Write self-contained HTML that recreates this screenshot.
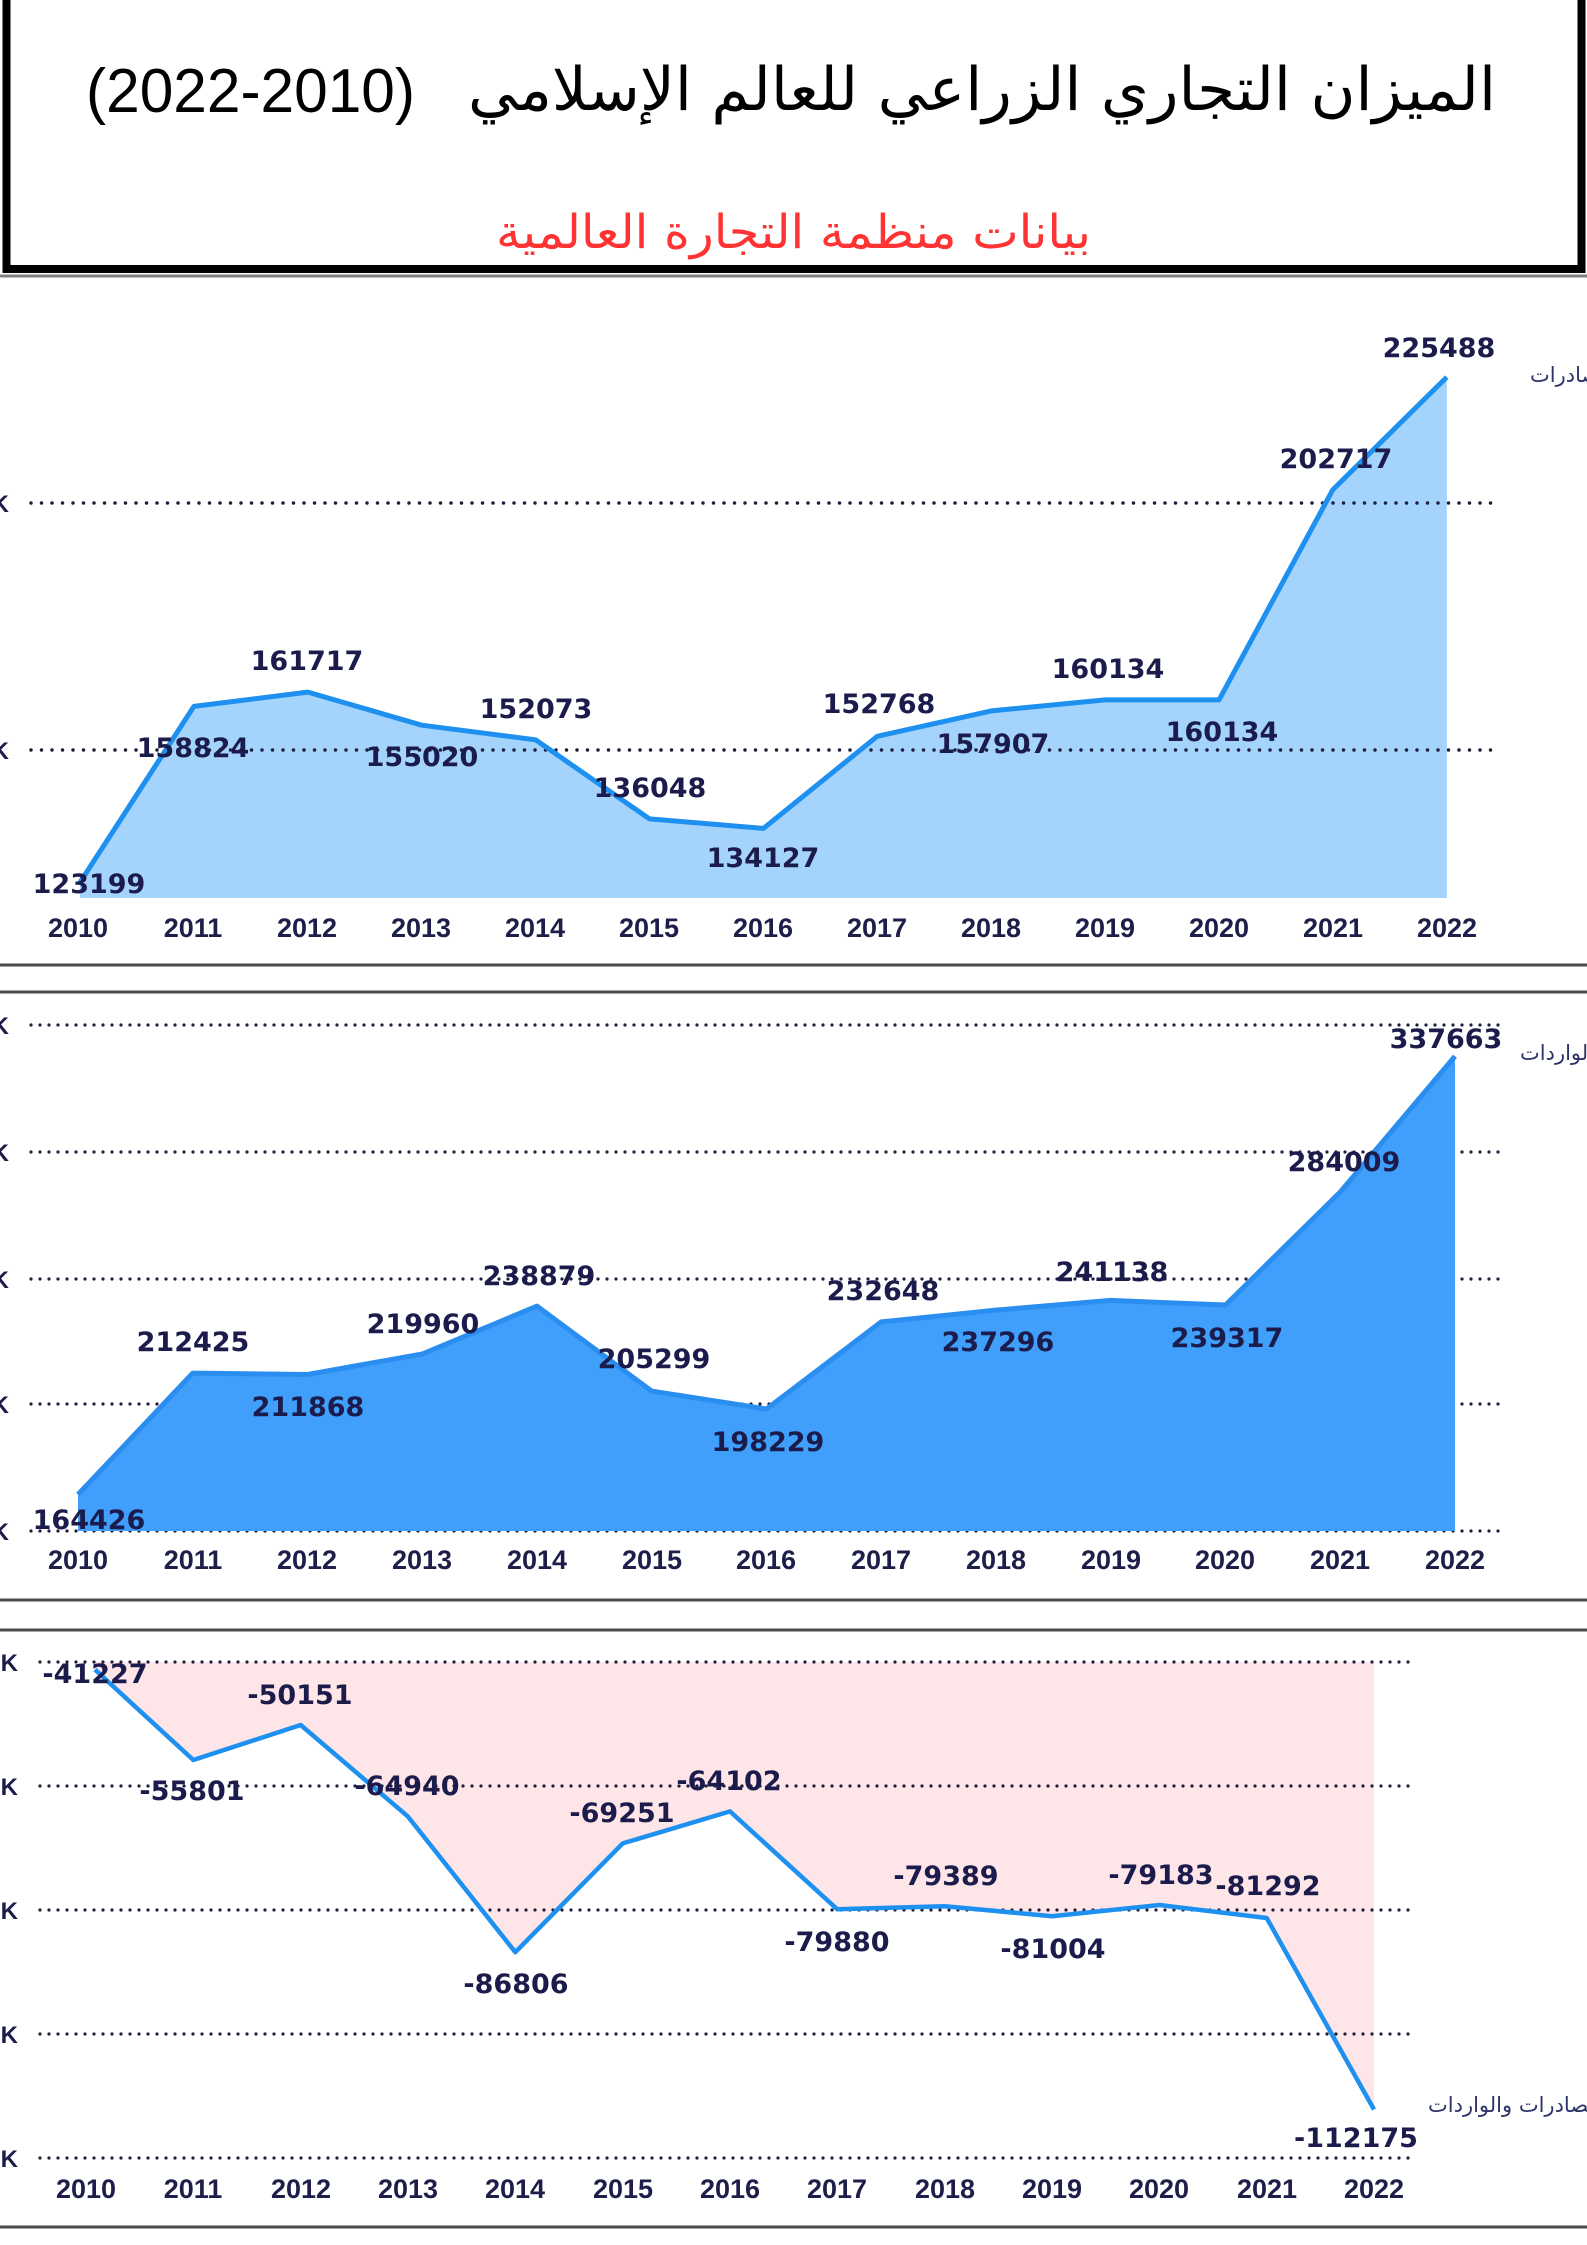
<!DOCTYPE html>
<html><head><meta charset="utf-8"><style>
html,body{margin:0;padding:0;background:#fff;}
body{width:1587px;height:2245px;overflow:hidden;}
svg{display:block;}
.v{font-family:"DejaVu Sans",sans-serif;font-weight:bold;font-size:27px;fill:#1c1c4c;text-anchor:middle;}
.y{font-family:"Liberation Sans",sans-serif;font-weight:bold;font-size:27px;fill:#1e1e4a;text-anchor:middle;}
.k{font-family:"Liberation Sans",sans-serif;font-weight:bold;font-size:24px;fill:#1c1c4c;text-anchor:end;}
.lg{font-family:"DejaVu Sans",sans-serif;font-size:21px;fill:#2d3468;}
.g1{stroke:#1e1e3c;stroke-width:3.5;stroke-linecap:round;stroke-dasharray:0 10.5;fill:none;}
.g2{stroke:#1e1e3c;stroke-width:3.2;stroke-linecap:round;stroke-dasharray:0 9;fill:none;}
.sep{stroke:#4a4a4a;stroke-width:3;}
</style></head><body>
<svg width="1587" height="2245" viewBox="0 0 1587 2245" xmlns="http://www.w3.org/2000/svg">
<!-- Header box -->
<rect x="6.5" y="-10" width="1575" height="279" fill="none" stroke="#000" stroke-width="8"/>
<line x1="0" y1="276" x2="1587" y2="276" stroke="#808080" stroke-width="3"/>
<text x="982" y="110" font-family="DejaVu Sans, sans-serif" font-size="60" fill="#000" text-anchor="middle" textLength="1028" lengthAdjust="spacingAndGlyphs">الميزان التجاري الزراعي للعالم الإسلامي</text>
<text x="250.5" y="112" font-family="Liberation Sans, sans-serif" font-size="62" fill="#000" text-anchor="middle" textLength="329" lengthAdjust="spacingAndGlyphs">(2022-2010)</text>
<text x="793.5" y="248" font-family="DejaVu Sans, sans-serif" font-size="47" fill="#ff3333" text-anchor="middle" textLength="595" lengthAdjust="spacingAndGlyphs">بيانات منظمة التجارة العالمية</text>

<!-- ===== Chart 1 ===== -->
<polygon fill="#a4d4fc" points="80,898 80,882.4 193.9,706.4 307.8,692.1 421.7,725.2 535.6,739.8 649.5,818.9 763.4,828.4 877.3,736.3 991.2,710.9 1105.1,699.9 1219,699.9 1332.9,489.6 1446.8,377.1 1446.8,898"/>
<line class="g1" x1="31" y1="503" x2="1500" y2="503"/>
<line class="g1" x1="31" y1="750" x2="1500" y2="750"/>
<polyline fill="none" stroke="#1e90f0" stroke-width="5" stroke-linejoin="round" points="80,882.4 193.9,706.4 307.8,692.1 421.7,725.2 535.6,739.8 649.5,818.9 763.4,828.4 877.3,736.3 991.2,710.9 1105.1,699.9 1219,699.9 1332.9,489.6 1446.8,377.1"/>
<text class="k" x="9" y="512">K</text>
<text class="k" x="9" y="759">K</text>
<g class="v">
<text x="89" y="893">123199</text>
<text x="193" y="757">158824</text>
<text x="307" y="670">161717</text>
<text x="422" y="766">155020</text>
<text x="536" y="718">152073</text>
<text x="650" y="797">136048</text>
<text x="763" y="867">134127</text>
<text x="879" y="713">152768</text>
<text x="993" y="753">157907</text>
<text x="1108" y="678">160134</text>
<text x="1222" y="741">160134</text>
<text x="1336" y="468">202717</text>
<text x="1439" y="357">225488</text>
</g>
<g class="y">
<text x="78" y="937">2010</text><text x="193" y="937">2011</text><text x="307" y="937">2012</text><text x="421" y="937">2013</text><text x="535" y="937">2014</text><text x="649" y="937">2015</text><text x="763" y="937">2016</text><text x="877" y="937">2017</text><text x="991" y="937">2018</text><text x="1105" y="937">2019</text><text x="1219" y="937">2020</text><text x="1333" y="937">2021</text><text x="1447" y="937">2022</text>
</g>
<text class="lg" x="1530" y="382">الصادرات</text>
<line class="sep" x1="0" y1="965" x2="1587" y2="965"/>
<line class="sep" x1="0" y1="992" x2="1587" y2="992"/>

<!-- ===== Chart 2 ===== -->
<line class="g2" x1="31" y1="1025" x2="1500" y2="1025"/>
<line class="g2" x1="31" y1="1152" x2="1500" y2="1152"/>
<line class="g2" x1="31" y1="1279" x2="1500" y2="1279"/>
<line class="g2" x1="31" y1="1404" x2="1500" y2="1404"/>
<line class="g2" x1="31" y1="1531" x2="1500" y2="1531"/>
<polygon fill="#3f9ffb" points="78,1531 78,1494.5 192.75,1373.1 307.5,1374.5 422.25,1354 537,1306.1 651.75,1391.1 766.5,1409 881.25,1321.9 996,1310.1 1110.75,1300.4 1225.5,1305 1340.25,1192 1455,1056.2 1455,1531"/>
<polyline fill="none" stroke="#2a8ef0" stroke-width="5" stroke-linejoin="round" points="78,1494.5 192.75,1373.1 307.5,1374.5 422.25,1354 537,1306.1 651.75,1391.1 766.5,1409 881.25,1321.9 996,1310.1 1110.75,1300.4 1225.5,1305 1340.25,1192 1455,1056.2"/>
<text class="k" x="9" y="1034">K</text>
<text class="k" x="9" y="1161">K</text>
<text class="k" x="9" y="1288">K</text>
<text class="k" x="9" y="1413">K</text>
<text class="k" x="9" y="1540">K</text>
<g class="v">
<text x="89" y="1529">164426</text>
<text x="193" y="1351">212425</text>
<text x="308" y="1416">211868</text>
<text x="423" y="1333">219960</text>
<text x="539" y="1285">238879</text>
<text x="654" y="1368">205299</text>
<text x="768" y="1451">198229</text>
<text x="883" y="1300">232648</text>
<text x="998" y="1351">237296</text>
<text x="1112" y="1281">241138</text>
<text x="1227" y="1347">239317</text>
<text x="1344" y="1171">284009</text>
<text x="1446" y="1048">337663</text>
</g>
<g class="y">
<text x="78" y="1569">2010</text><text x="193" y="1569">2011</text><text x="307" y="1569">2012</text><text x="422" y="1569">2013</text><text x="537" y="1569">2014</text><text x="652" y="1569">2015</text><text x="766" y="1569">2016</text><text x="881" y="1569">2017</text><text x="996" y="1569">2018</text><text x="1111" y="1569">2019</text><text x="1225" y="1569">2020</text><text x="1340" y="1569">2021</text><text x="1455" y="1569">2022</text>
</g>
<text class="lg" x="1520" y="1060">الواردات</text>
<line class="sep" x1="0" y1="1600" x2="1587" y2="1600"/>
<line class="sep" x1="0" y1="1630" x2="1587" y2="1630"/>

<!-- ===== Chart 3 ===== -->
<polygon fill="#fde5e8" points="95,1662 95,1669.6 193.3,1760 300.7,1725 408,1816.6 515.3,1952.2 622.7,1843.4 730,1811.4 837.3,1909.3 944.7,1906.2 1052,1916.2 1159.3,1905 1266.7,1918 1374,2109.5 1374,1662"/>
<line class="g2" x1="40" y1="1662" x2="1414" y2="1662"/>
<line class="g2" x1="40" y1="1786" x2="1414" y2="1786"/>
<line class="g2" x1="40" y1="1910" x2="1414" y2="1910"/>
<line class="g2" x1="40" y1="2034" x2="1414" y2="2034"/>
<line class="g2" x1="40" y1="2158" x2="1414" y2="2158"/>
<polyline fill="none" stroke="#1e90f0" stroke-width="4.5" stroke-linejoin="round" points="95,1669.6 193.3,1760 300.7,1725 408,1816.6 515.3,1952.2 622.7,1843.4 730,1811.4 837.3,1909.3 944.7,1906.2 1052,1916.2 1159.3,1905 1266.7,1918 1374,2109.5"/>
<text class="k" x="18" y="1671">0K</text>
<text class="k" x="18" y="1795">0K</text>
<text class="k" x="18" y="1919">0K</text>
<text class="k" x="18" y="2043">0K</text>
<text class="k" x="18" y="2167">0K</text>
<g class="v">
<text x="95" y="1683">-41227</text>
<text x="192" y="1800">-55801</text>
<text x="300" y="1704">-50151</text>
<text x="407" y="1795">-64940</text>
<text x="516" y="1993">-86806</text>
<text x="622" y="1822">-69251</text>
<text x="729" y="1790">-64102</text>
<text x="837" y="1951">-79880</text>
<text x="946" y="1885">-79389</text>
<text x="1053" y="1958">-81004</text>
<text x="1161" y="1884">-79183</text>
<text x="1268" y="1895">-81292</text>
<text x="1356" y="2147">-112175</text>
</g>
<g class="y">
<text x="86" y="2198">2010</text><text x="193" y="2198">2011</text><text x="301" y="2198">2012</text><text x="408" y="2198">2013</text><text x="515" y="2198">2014</text><text x="623" y="2198">2015</text><text x="730" y="2198">2016</text><text x="837" y="2198">2017</text><text x="945" y="2198">2018</text><text x="1052" y="2198">2019</text><text x="1159" y="2198">2020</text><text x="1267" y="2198">2021</text><text x="1374" y="2198">2022</text>
</g>
<text class="lg" x="1428" y="2112">الصادرات والواردات</text>
<line class="sep" x1="0" y1="2227" x2="1587" y2="2227"/>
</svg>
</body></html>
